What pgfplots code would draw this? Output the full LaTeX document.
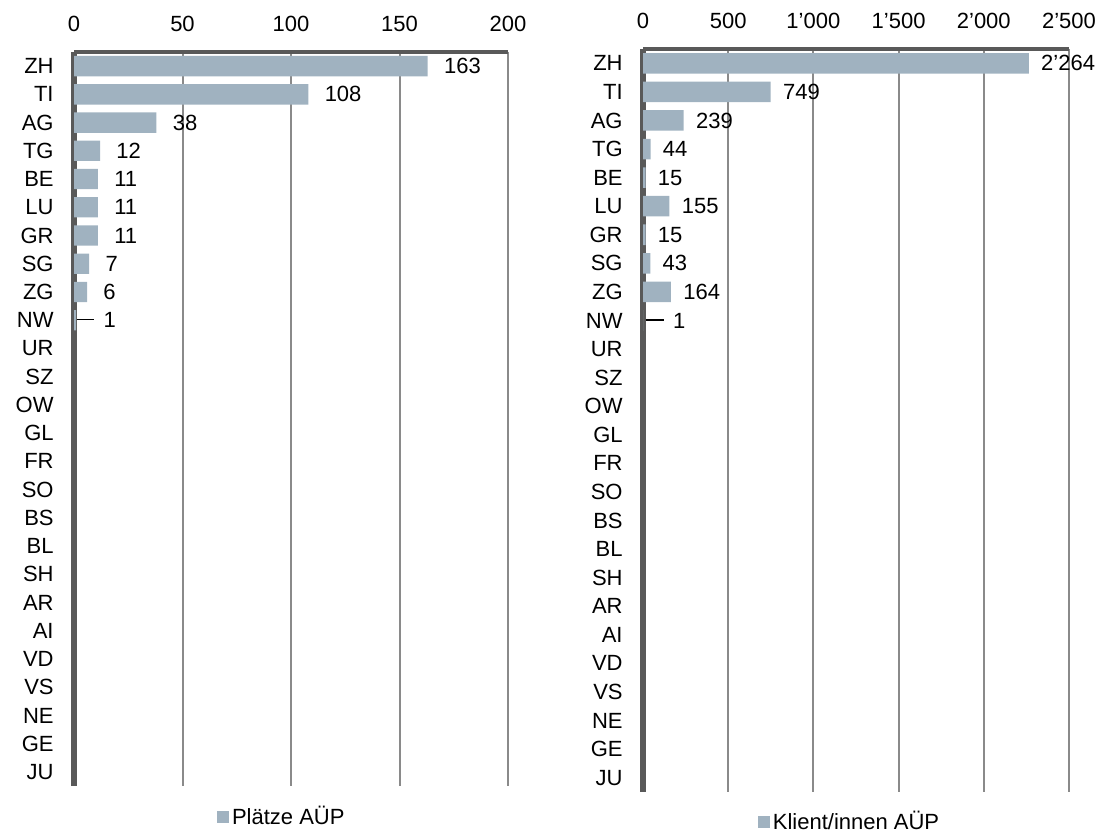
\documentclass[border=0pt]{standalone}
\usepackage{fontspec}
\setmainfont{Liberation Sans}
\usepackage{pgfplots}
\pgfplotsset{compat=1.18}

\definecolor{barc}{RGB}{160,178,192}
\definecolor{axc}{RGB}{89,89,89}
\definecolor{gridc}{RGB}{138,138,138}

% leader dash in front of the tiny NW value
\protected\def\nwdash#1#2{\hspace{#1}\rule[0.34em]{#2}{0.6pt}\hspace{4.8pt}1}

\pgfplotsset{kanton/.style={
    xbar, bar width=0.72, bar shift=0pt,
    scale only axis, anchor=north west,
    y dir=reverse, ymin=-0.5, ymax=25.5,
    ytick={0,...,25},
    yticklabels={ZH,TI,AG,TG,BE,LU,GR,SG,ZG,NW,UR,SZ,OW,GL,FR,SO,BS,BL,SH,AR,AI,VD,VS,NE,GE,JU},
    axis x line*=top, axis y line*=left,
    x axis line style={axc, line width=2pt},
    y axis line style={axc, line width=2.7pt},
    xmajorgrids, major grid style={gridc, line width=1pt},
    major tick length=0pt, tick style={draw=none},
    xticklabel style={anchor=south, inner sep=0pt, yshift=10pt},
    yticklabel style={anchor=east, inner sep=0pt, xshift=-10pt},
    nodes near coords, point meta=explicit symbolic,
    legend style={draw=none, fill=none, anchor=center, inner sep=0pt,
        nodes={inner sep=1.5pt}},
    legend image code/.code={\fill[barc] (0pt,-3pt) rectangle (6pt,3pt);},
}}

\begin{document}
\begin{tikzpicture}[font=\fontsize{11pt}{13pt}\selectfont]
\useasboundingbox (0,0) rectangle (553.5pt,-418.5pt);

\begin{axis}[kanton,
    at={(37pt,-26pt)}, width=217pt, height=367pt,
    xmin=0, xmax=200,
    xtick={0,50,100,150,200},
    xticklabels={0,50,100,150,200},
    nodes near coords style={anchor=west, inner sep=0pt, xshift=8pt},
    legend style={at={(0.48,-0.042)}},
]
\addplot[fill=barc, draw=none] table[x=v, y=i, meta=l] {
i v l
0 163 163
1 108 108
2 38 38
3 12 12
4 11 11
5 11 11
6 11 11
7 7 7
8 6 6
9 1 {\nwdash{-7.8pt}{8.5pt}}
};
\addlegendentry{Plätze AÜP}
\end{axis}

\begin{axis}[kanton,
    at={(321.5pt,-24.5pt)}, width=213pt, height=371.5pt,
    xmin=0, xmax=2500,
    xtick={0,500,1000,1500,2000,2500},
    xticklabels={0,500,1’000,1’500,2’000,2’500},
    nodes near coords style={anchor=west, inner sep=0pt, xshift=6pt},
    legend style={at={(0.486,-0.04)}},
]
\addplot[fill=barc, draw=none] table[x=v, y=i, meta=l] {
i v l
0 2264 2’264
1 749 749
2 239 239
3 44 44
4 15 15
5 155 155
6 15 15
7 43 43
8 164 164
9 1 {\nwdash{-5pt}{9pt}}
};
\addlegendentry{Klient/innen AÜP}
\end{axis}
\end{tikzpicture}
\end{document}
